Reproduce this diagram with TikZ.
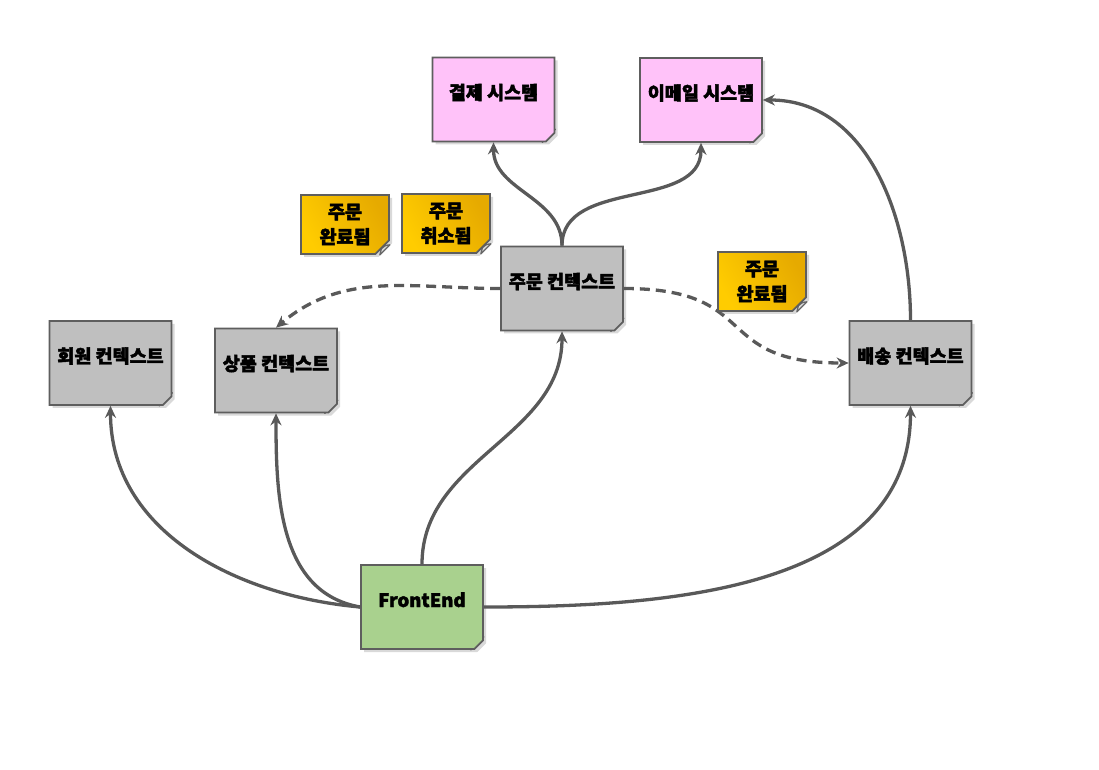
\documentclass[tikz,border=0pt]{standalone}
\usepackage{fontspec}
\setmainfont{Noto Sans CJK KR}[BoldFeatures={FakeBold=2.2}]
\usepackage{tikz}
\usetikzlibrary{arrows.meta, positioning, calc, shapes.misc, shadows}

\definecolor{linegray}{HTML}{595959}
\definecolor{notedraw}{HTML}{5E5E5E}
\definecolor{ctxgray}{HTML}{BFBFBF}
\definecolor{syspink}{HTML}{FFC2F9}
\definecolor{evtyellowA}{HTML}{FFCC00}
\definecolor{evtyellowB}{HTML}{E6AA00}
\definecolor{frontgreen}{HTML}{A9D18E}

\tikzstyle{arrow} = [linegray, line width=3.3pt, -{Stealth[length=12pt, width=11pt]}]
\tikzset{
    foldcorner/.style={append after command={
        \pgfextra{
            \draw[notedraw, line width=1.3pt, line join=round, fill=white, fill opacity=.55]
                ($(\tikzlastnode.east |- \tikzlastnode.south)+(0,#1)$)
                .. controls +(-0.45*#1,-0.05*#1) .. ($(\tikzlastnode.east |- \tikzlastnode.south)+(-0.85*#1,0.62*#1)$)
                -- ($(\tikzlastnode.east |- \tikzlastnode.south)+(-#1,0)$) -- cycle;
        }
    }},
    foldcorner/.default=13pt
}

\begin{document}
\begin{tikzpicture}[x=1pt, y=1pt]
    \tikzstyle{note}=[
        chamfered rectangle,
        chamfered rectangle corners=south east,
        draw=notedraw, line width=1.7pt,
        drop shadow={opacity=.3, shadow xshift=3pt, shadow yshift=-3pt},
        font=\fontsize{18.5}{25}\selectfont\bfseries,
        align=center,
        inner sep=0pt
    ]
    \tikzstyle{bignote}=[note, chamfered rectangle xsep=13pt, foldcorner=13pt,
        minimum width=122pt, minimum height=84pt, % uniform size
        text height=5pt, text depth=5pt]
    \tikzstyle{ctx}=[bignote, fill=ctxgray]
    \tikzstyle{sys}=[bignote, fill=syspink]
    \tikzstyle{front}=[bignote, fill=frontgreen]
    \tikzstyle{evt}=[note, chamfered rectangle xsep=10pt, foldcorner=10pt,
        minimum width=88pt, minimum height=59pt,
        left color=evtyellowA, right color=evtyellowB, shading angle=120]

    \useasboundingbox (0,0) rectangle (1099,769);

    \node[sys] (pay) at (493.5,669.5) {결제 시스템};
    \node[sys] (mail) at (701,669) {이메일 시스템};
    \node[ctx] (order) at (562,480.5) {주문 컨텍스트};
    \node[ctx] (member) at (110.5,406) {회원 컨텍스트};
    \node[ctx] (product) at (276,398.5) {상품 컨텍스트};
    \node[ctx] (ship) at (910.5,406) {배송 컨텍스트};
    \node[front] (front) at (422,162) {FrontEnd};

    \draw[arrow] (front.west) to[out=175, in=-90] (member.south);
    \draw[arrow] (front.west) to[out=170, in=-90] (product.south);
    \draw[arrow] (front.north) to[out=90, in=-90] (order.south);
    \draw[arrow] (front.east) to[out=0, in=-90] (ship.south);

    \draw[arrow] (order.north) to[out=90, in=-90] (pay.south);
    \draw[arrow] (order.north) to[out=90, in=-90] (mail.south);
    \draw[arrow] (ship.north) to[out=90, in=0] (mail.east);

    % events
    \draw[arrow, dash pattern=on 10pt off 6pt] (order.west) to[out=180, in=40] (product.north);
    \draw[arrow, dash pattern=on 10pt off 6pt] (order.east) to[out=0, in=180, looseness=1.5] (ship.west);

    \node[evt] (done) at (345,544.5) {주문\\완료됨};
    \node[evt] (cancel) at (446,545.5) {주문\\취소됨};
    \node[evt] (shipdone) at (762,487.5) {주문\\완료됨};

\end{tikzpicture}
\end{document}
